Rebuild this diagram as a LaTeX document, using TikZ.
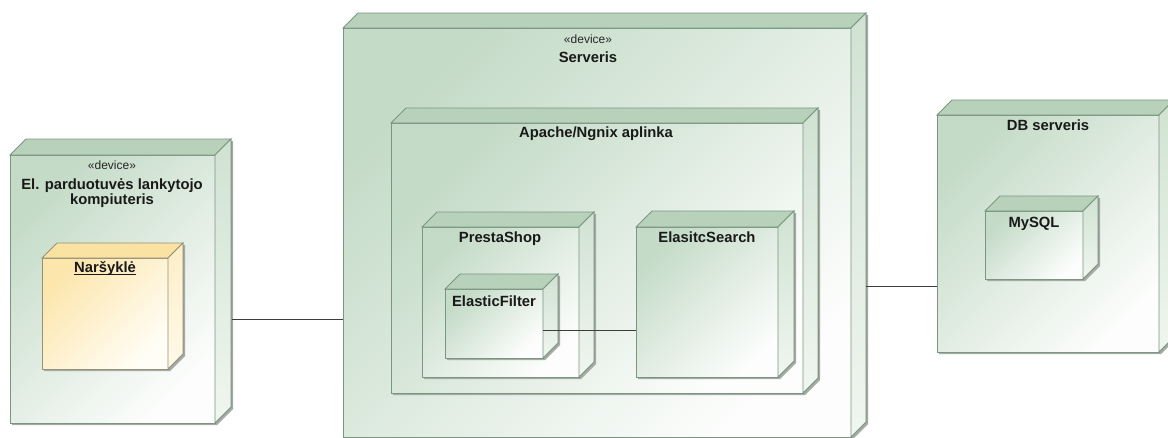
\documentclass[tikz,border=0pt]{standalone}
\usepackage{fontspec}
\setmainfont{Liberation Sans}
\usetikzlibrary{calc}
\definecolor{gfrontA}{RGB}{196,219,199}
\definecolor{gfrontB}{RGB}{252,253,252}
\definecolor{gtop}{RGB}{184,209,187}
\definecolor{gsideA}{RGB}{208,226,210}
\definecolor{gsideB}{RGB}{240,246,240}
\definecolor{gline}{RGB}{122,150,128}
\definecolor{yfrontA}{RGB}{252,230,172}
\definecolor{yfrontB}{RGB}{255,253,246}
\definecolor{ytop}{RGB}{249,226,162}
\definecolor{ysideA}{RGB}{253,238,200}
\definecolor{ysideB}{RGB}{255,249,232}
\definecolor{yline}{RGB}{150,146,122}
\definecolor{shadowc}{RGB}{165,170,165}
\definecolor{conn}{RGB}{60,60,60}
\tikzset{
  gfront/.style={draw=gline, line width=0.9pt, top color=gfrontA, bottom color=gfrontB, shading angle=45},
  gtopf/.style={draw=gline, line width=0.9pt, fill=gtop},
  gsidef/.style={draw=gline, line width=0.9pt, top color=gsideA, bottom color=gsideB},
  yfront/.style={draw=yline, line width=0.9pt, top color=yfrontA, bottom color=yfrontB, shading angle=45},
  ytopf/.style={draw=yline, line width=0.9pt, fill=ytop},
  ysidef/.style={draw=yline, line width=0.9pt, top color=ysideA, bottom color=ysideB},
  lbl/.style={inner sep=0pt, font=\fontsize{14.8}{14.5}\selectfont\bfseries, text=black!90, align=center},
  stereo/.style={inner sep=0pt, font=\fontsize{12}{12}\selectfont, text=black!85},
  link/.style={draw=conn, line width=0.8pt}
}
\newcommand{\ulbase}[1]{\setbox0\hbox{#1}\rlap{\rule[-2.6pt]{\wd0}{0.9pt}}\box0}
% #1 palette, #2 name, #3 x, #4 y, #5 width, #6 height, #7 depth
\newcommand{\devbox}[7]{%
  \fill[shadowc] (#3+2,#4+#6+2) -- (#3+2,#4+2) -- (#3+#7+2,#4-#7+2) -- (#3+#5+#7+2,#4-#7+2)
     -- (#3+#5+#7+2,#4+#6-#7+2) -- (#3+#5+2,#4+#6+2) -- cycle;
  \node[#1front, minimum width=#5pt, minimum height=#6pt, anchor=north west, inner sep=0pt, outer sep=0pt] (#2) at (#3,#4) {};
  \filldraw[#1topf] (#2.north west) -- ++(#7,-#7) -- ([shift={(#7,-#7)}]#2.north east) -- (#2.north east) -- cycle;
  \filldraw[#1sidef] (#2.north east) -- ++(#7,-#7) -- ([shift={(#7,-#7)}]#2.south east) -- (#2.south east) -- cycle;
}
\begin{document}
\begin{tikzpicture}[x=1pt, y=-1pt]
\fill[white] (0,0) rectangle (1168,437);
\useasboundingbox (0,0) rectangle (1168,437);

% client computer
\devbox{g}{lk}{10}{155}{205}{268}{16}
\node[stereo, anchor=north] (lkst) at (112,161) {«device»};
\node[lbl, anchor=north] (lkl) at (112,179) {El. parduotuvės lankytojo\\kompiuteris};
\devbox{y}{nars}{42}{258}{126}{111}{15}
\node[lbl, anchor=north] (narsl) at (105,261) {\ulbase{Naršyklė}};

% server
\devbox{g}{serveris}{343}{28}{508}{409}{15}
\node[stereo, anchor=north] (servst) at (588,35) {«device»};
\node[lbl, anchor=north] (servl) at (588,52) {Serveris};
\devbox{g}{apache}{391}{123}{412}{270}{15}
\node[lbl, anchor=north] (apachel) at (596,127) {Apache/Ngnix aplinka};
\devbox{g}{presta}{422}{227}{157}{150}{15}
\node[lbl, anchor=north] (prestal) at (500,232) {PrestaShop};
\devbox{g}{ef}{445}{289}{98}{69}{15}
\node[lbl, anchor=north] (efl) at (494,296) {ElasticFilter};
\devbox{g}{es}{636}{227}{142}{150}{16}
\node[lbl, anchor=north] (esl) at (707,232) {ElasitcSearch};

% DB server
\devbox{g}{db}{937}{115}{222}{237}{15}
\node[lbl, anchor=north] (dbl) at (1048,120) {DB serveris};
\devbox{g}{mysql}{985}{211}{98}{68}{15}
\node[lbl, anchor=north] (mysqll) at (1034,217) {MySQL};

% connectors
\coordinate (lkside) at (232,319);
\coordinate (servside) at (866,286);
\draw[link] (lkside) -- (lkside -| serveris.west);
\draw[link] ([yshift=-6.5pt]ef.east) -- ([yshift=-6.5pt]ef.east -| es.west);
\draw[link] (servside) -- (servside -| db.west);
\end{tikzpicture}
\end{document}
